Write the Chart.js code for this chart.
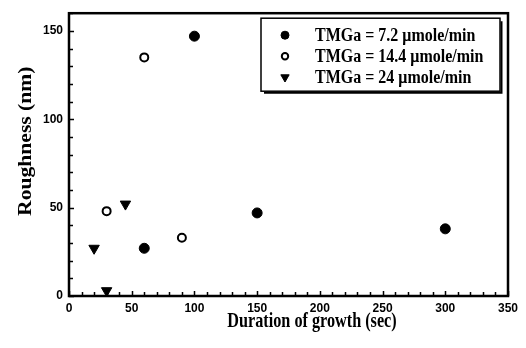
<!DOCTYPE html>
<html>
<head>
<meta charset="utf-8">
<script src="https://cdn.jsdelivr.net/npm/chart.js@4.4.0/dist/chart.umd.min.js"></script>
<style>
  html, body { margin: 0; padding: 0; background: #fff; }
  #wrap { width: 526px; height: 348px; }
</style>
</head>
<body>
<div id="wrap"><canvas id="roughChart" width="526" height="348"></canvas></div>
<script>
// Data
const seriesLabels = ['TMGa = 7.2 \u03bcmole/min', 'TMGa = 14.4 \u03bcmole/min', 'TMGa = 24 \u03bcmole/min'];
const duration72 = [60, 100, 150, 300];
const roughness72 = [27, 147, 47, 38];
const duration144 = [30, 60, 90];
const roughness144 = [48, 135, 33];
const duration24 = [20, 30, 45];
const roughness24 = [27, 3, 52];
const xTicks = [0, 50, 100, 150, 200, 250, 300, 350];
const yTicks = [0, 50, 100, 150];
const minorStep = 10;
const xTitle = 'Duration of growth (sec)';
const yTitle = 'Roughness (nm)';

function toPoints(xs, ys) {
    return xs.map((x, i) => ({ x: x, y: ys[i] }));
}

const serifBold = 'bold 18px "Liberation Serif", "Times New Roman", serif';

// the scanned figure is stretched vertically, so text is drawn a bit squashed/tall
function stretchedText(ctx, text, x, y, sx, sy, angle) {
    ctx.save();
    ctx.translate(x, y);
    if (angle) ctx.rotate(angle);
    ctx.scale(sx, sy);
    ctx.fillText(text, 0, 0);
    ctx.restore();
}

// frame around plot + inward ticks + axis titles
const frameTicks = {
    id: 'frameTicks',
    afterDatasetsDraw(chart) {
        const { ctx, chartArea: a, scales: { x, y } } = chart;
        ctx.save();
        ctx.strokeStyle = '#000';
        ctx.lineWidth = 1.5;
        ctx.beginPath();
        for (let v = x.min; v <= x.max; v += minorStep) {
            const px = Math.round(x.getPixelForValue(v)) + 0.5;
            const len = v % 50 === 0 ? 5 : 4;
            ctx.moveTo(px, a.bottom);
            ctx.lineTo(px, a.bottom - len);
        }
        for (let v = y.min; v <= y.max; v += minorStep) {
            const py = Math.round(y.getPixelForValue(v)) + 0.5;
            const len = v % 50 === 0 ? 5 : 4;
            ctx.moveTo(a.left, py);
            ctx.lineTo(a.left + len, py);
        }
        ctx.stroke();
        ctx.lineWidth = 2.5;
        ctx.strokeRect(a.left, a.top, a.right - a.left, a.bottom - a.top);

        ctx.fillStyle = '#000';
        ctx.font = serifBold;
        ctx.textAlign = 'center';
        ctx.textBaseline = 'middle';
        stretchedText(ctx, xTitle, a.left + 243, a.bottom + 26, 0.9, 1.15, 0);
        stretchedText(ctx, yTitle, 26, a.top + 128, 1.2, 1.1, -Math.PI / 2);
        ctx.restore();
    }
};

// boxed legend inside the plot, top right
const boxLegend = {
    id: 'boxLegend',
    afterDraw(chart) {
        const { ctx, chartArea: a } = chart;
        const right = a.right - 8, left = a.left + 192, top = a.top + 5, bottom = a.top + 78;
        ctx.save();
        ctx.fillStyle = '#fff';
        ctx.fillRect(left, top, right - left, bottom - top);
        ctx.strokeStyle = '#000';
        ctx.lineWidth = 1.5;
        ctx.strokeRect(left, top, right - left, bottom - top);
        ctx.lineWidth = 2;
        ctx.beginPath();
        ctx.moveTo(left + 3, bottom + 1.5);
        ctx.lineTo(right + 1.5, bottom + 1.5);
        ctx.lineTo(right + 1.5, top + 3);
        ctx.stroke();
        ctx.font = 'bold 16px "Liberation Serif", "Times New Roman", serif';
        ctx.textBaseline = 'middle';
        ctx.textAlign = 'left';
        chart.data.datasets.forEach((ds, i) => {
            const cy = top + 17 + i * 21;
            ctx.fillStyle = ds.backgroundColor;
            ctx.strokeStyle = ds.borderColor;
            ctx.lineWidth = ds.borderWidth;
            Chart.helpers.drawPoint(ctx, {
                pointStyle: ds.pointStyle,
                radius: ds.pointRadius * 0.8,
                rotation: ds.rotation || 0,
                borderWidth: ds.borderWidth
            }, left + 24, cy);
            ctx.fillStyle = '#000';
            stretchedText(ctx, ds.label, left + 54, cy + 1, 1, 1.12, 0);
        });
        ctx.restore();
    }
};

const tickFont = { family: '"Liberation Sans", Arial, sans-serif', size: 12, weight: 'bold' };

const ctx = document.getElementById('roughChart').getContext('2d');
const roughChart = new Chart(ctx, {
    type: 'scatter',
    data: {
        datasets: [
            {
                label: seriesLabels[0],
                data: toPoints(duration72, roughness72),
                pointStyle: 'circle',
                pointRadius: 5,
                backgroundColor: '#000',
                borderColor: '#000',
                borderWidth: 1
            },
            {
                label: seriesLabels[1],
                data: toPoints(duration144, roughness144),
                pointStyle: 'circle',
                pointRadius: 4,
                backgroundColor: '#fff',
                borderColor: '#000',
                borderWidth: 2
            },
            {
                label: seriesLabels[2],
                data: toPoints(duration24, roughness24),
                pointStyle: 'triangle',
                rotation: 180,
                pointRadius: 6,
                backgroundColor: '#000',
                borderColor: '#000',
                borderWidth: 1
            }
        ]
    },
    options: {
        responsive: false,
        animation: false,
        layout: { padding: { left: 0, top: 12, right: 18, bottom: 0 } },
        plugins: {
            legend: { display: false },
            tooltip: { enabled: false }
        },
        scales: {
            x: {
                type: 'linear',
                min: 0,
                max: 350,
                afterBuildTicks: (scale) => { scale.ticks = xTicks.map(v => ({ value: v })); },
                afterFit: (scale) => { scale.height = 52; },
                grid: { display: false, drawTicks: false },
                border: { display: false },
                ticks: { font: tickFont, color: '#000', padding: 5, maxRotation: 0 }
            },
            y: {
                type: 'linear',
                min: 0,
                max: 160,
                afterBuildTicks: (scale) => { scale.ticks = yTicks.map(v => ({ value: v })); },
                afterFit: (scale) => { scale.width = 69; },
                grid: { display: false, drawTicks: false },
                border: { display: false },
                ticks: { font: tickFont, color: '#000', padding: 6 }
            }
        }
    },
    plugins: [frameTicks, boxLegend]
});
</script>
</body>
</html>
